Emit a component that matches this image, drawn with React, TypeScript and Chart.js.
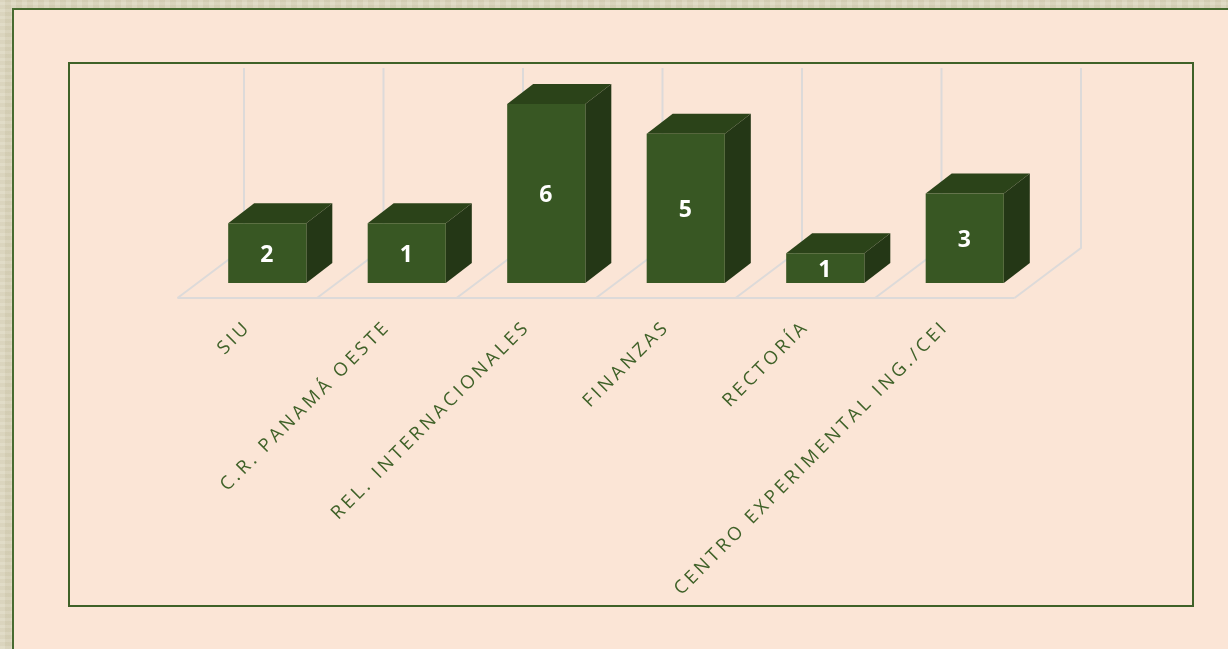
import React, { useEffect, useRef } from "react";
import { Chart, registerables } from "chart.js";

Chart.register(...registerables);

const categories = ["SIU", "C.R. PANAMÁ OESTE", "REL. INTERNACIONALES", "FINANZAS", "RECTORÍA", "CENTRO EXPERIMENTAL ING./CEI"];
const barHeights = [2, 2, 6, 5, 1, 3];
const shownLabels = ["2", "1", "6", "5", "1", "3"];

const FRONT = "#385723";
const TOP = "#2B4319";
const SIDE = "#243716";
const GRID = "#DDDAD9";
const TICK_TEXT = "#3F6128";
const DEPTH_X = 26;
const DEPTH_Y = 20;

const scene3d = {
  id: "scene3d",
  beforeDraw(chart: any) {
    const { ctx, scales } = chart;
    const x = scales.x;
    const base = scales.y.getPixelForValue(0);
    const top = scales.y.getPixelForValue(scales.y.max);
    const fx = -20, fy = 15, bx = 46.5, by = -35;
    ctx.save();
    ctx.strokeStyle = GRID;
    ctx.lineWidth = 2;
    for (let i = 0; i <= categories.length; i++) {
      const px = x.getPixelForValue(i - 0.5);
      ctx.beginPath();
      ctx.moveTo(px + fx, base + fy);
      ctx.lineTo(px + bx, base + by);
      ctx.lineTo(px + bx, top + by - 1);
      ctx.stroke();
    }
    ctx.beginPath();
    ctx.moveTo(x.getPixelForValue(-0.5) + fx, base + fy);
    ctx.lineTo(x.getPixelForValue(categories.length - 0.5) + fx, base + fy);
    ctx.stroke();
    ctx.restore();
    (ctx as any).letterSpacing = "3.4px";
  },
  beforeDatasetsDraw(chart: any) {
    const { ctx } = chart;
    (ctx as any).letterSpacing = "0px";
    ctx.save();
    chart.getDatasetMeta(0).data.forEach((bar: any) => {
      const { x, y, base, width } = bar.getProps(["x", "y", "base", "width"], true);
      const l = x - width / 2, r = x + width / 2;
      ctx.fillStyle = TOP;
      ctx.beginPath();
      ctx.moveTo(l, y);
      ctx.lineTo(l + DEPTH_X, y - DEPTH_Y);
      ctx.lineTo(r + DEPTH_X, y - DEPTH_Y);
      ctx.lineTo(r, y);
      ctx.closePath();
      ctx.fill();
      ctx.fillStyle = SIDE;
      ctx.beginPath();
      ctx.moveTo(r, y);
      ctx.lineTo(r + DEPTH_X, y - DEPTH_Y);
      ctx.lineTo(r + DEPTH_X, base - DEPTH_Y);
      ctx.lineTo(r, base);
      ctx.closePath();
      ctx.fill();
    });
    ctx.restore();
  },
  afterDatasetsDraw(chart: any) {
    const { ctx } = chart;
    ctx.save();
    ctx.fillStyle = "#FFFFFF";
    ctx.font = "700 23px 'Open Sans'";
    ctx.textAlign = "center";
    ctx.textBaseline = "middle";
    chart.getDatasetMeta(0).data.forEach((bar: any, i: number) => {
      const { x, y, base } = bar.getProps(["x", "y", "base"], true);
      ctx.fillText(shownLabels[i], x - 0.5, (y + base) / 2 + 2);
    });
    ctx.restore();
  },
};

export default function App() {
  const ref = useRef<HTMLCanvasElement | null>(null);
  useEffect(() => {
    if (!ref.current) return;
    const chart = new Chart(ref.current, {
      type: "bar",
      data: {
        labels: categories,
        datasets: [{
          data: barHeights,
          backgroundColor: FRONT,
          barPercentage: 0.56,
          categoryPercentage: 1,
        }],
      },
      plugins: [scene3d],
      options: {
        animation: false,
        responsive: false,
        layout: { padding: { left: 197.5, right: 193.5, top: 104, bottom: 26 } },
        plugins: { legend: { display: false }, title: { display: false }, tooltip: { enabled: false } },
        scales: {
          x: {
            grid: { display: false, drawTicks: false },
            border: { display: false },
            afterFit(scale: any) {
              scale.height = 340;
              scale.paddingLeft = 0;
              scale.paddingRight = 0;
            },
            ticks: {
              autoSkip: false,
              minRotation: 45,
              maxRotation: 45,
              padding: 33,
              labelOffset: -19,
              color: TICK_TEXT,
              font: { family: "'Open Sans'", size: 18.5 },
            },
          },
          y: { display: false, min: 0, max: 6 },
        },
      } as any,
    });
    return () => chart.destroy();
  }, []);

  const texture = "repeating-linear-gradient(0deg, rgba(255,255,255,.07) 0 3px, rgba(120,110,70,.04) 3px 7px), repeating-linear-gradient(90deg, rgba(255,255,255,.08) 0 5px, rgba(120,110,70,.05) 5px 11px)";
  return (
    <div style={{ position: "fixed", left: 0, top: 0, width: 1228, height: 649, overflow: "hidden", backgroundColor: "#DCD6BE", backgroundImage: texture }}>
      <div style={{ position: "absolute", left: 12, top: 8, width: 1230, height: 660, background: "#FBE5D6", borderTop: "2px solid #486B30", borderLeft: "2px solid #486B30" }} />
      <div style={{ position: "absolute", left: 68, top: 62, width: 1122, height: 541, border: "2px solid #3F6128" }} />
      <canvas ref={ref} width={1228} height={649} style={{ position: "absolute", left: 0, top: 0, width: 1228, height: 649 }} />
    </div>
  );
}
